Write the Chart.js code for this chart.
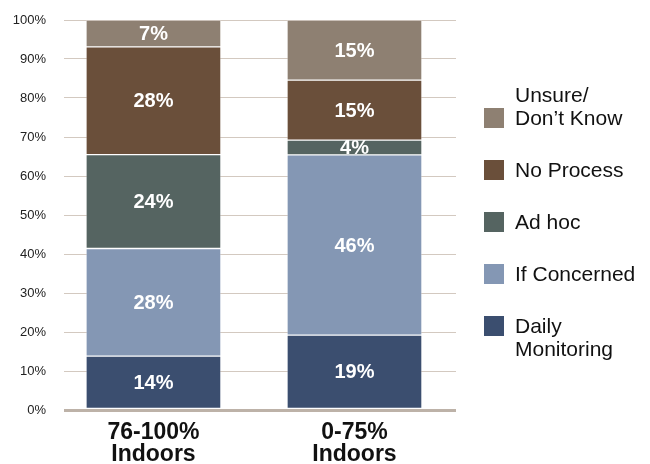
<!DOCTYPE html>
<html>
<head>
<meta charset="utf-8">
<script src="https://cdn.jsdelivr.net/npm/chart.js@4.4.0/dist/chart.umd.min.js"></script>
<style>
  html, body { margin: 0; padding: 0; background: #fff; }
  #wrap { position: relative; width: 650px; height: 464px; }
  #legend { position: absolute; left: 484px; top: 83px; font-family: "Liberation Sans", Arial, sans-serif; font-size: 21px; line-height: 23px; color: #111; }
  .item { display: flex; align-items: center; margin-bottom: 29px; }
  .item.end { align-items: flex-end; }
  .item.start { align-items: flex-start; }
  .box { width: 20px; height: 20px; margin-right: 11px; flex: none; }
  .item.end .box { margin-bottom: 1.5px; }
  .item.start .box { margin-top: 1.5px; }
</style>
</head>
<body>
<div id="wrap">
  <canvas id="chart" width="650" height="464"></canvas>
  <div id="legend"></div>
</div>
<script>
const categories = [['76-100%', 'Indoors'], ['0-75%', 'Indoors']];
const seriesNames = ['Daily Monitoring', 'If Concerned', 'Ad hoc', 'No Process', 'Unsure/ Don\u2019t Know'];
const legendLines = [['Daily', 'Monitoring'], ['If Concerned'], ['Ad hoc'], ['No Process'], ['Unsure/', 'Don\u2019t Know']];
const dailyMonitoring = [13.8, 19.2];
const ifConcerned = [27.6, 46.2];
const adHoc = [24.1, 3.8];
const noProcess = [27.6, 15.4];
const unsure = [6.9, 15.4];
const yTicks = [0, 10, 20, 30, 40, 50, 60, 70, 80, 90, 100];

const colors = ['#3b4e6f', '#8497b4', '#556461', '#6a4f3a', '#8e8072'];
const series = [dailyMonitoring, ifConcerned, adHoc, noProcess, unsure];

const datasets = series.map((vals, i) => ({
  label: seriesNames[i],
  data: vals.map((v, j) => ({ x: j, y: v })),
  stack: 'all',
  backgroundColor: colors[i],
  borderColor: 'rgba(255,255,255,0.25)',
  borderWidth: 1,
  borderSkipped: false,
  barThickness: 135
}));

// white percentage labels in the middle of each segment
const segmentLabels = {
  id: 'segmentLabels',
  afterDatasetsDraw(chart) {
    const ctx = chart.ctx;
    ctx.save();
    ctx.fillStyle = '#fff';
    ctx.font = 'bold 20px "Liberation Sans", Arial, sans-serif';
    ctx.textAlign = 'center';
    ctx.textBaseline = 'middle';
    chart.data.datasets.forEach((ds, i) => {
      chart.getDatasetMeta(i).data.forEach((bar, j) => {
        const p = bar.getProps(['x', 'y', 'base'], true);
        ctx.fillText(Math.round(ds.data[j].y) + '%', p.x, (p.y + p.base) / 2 + 1);
      });
    });
    ctx.restore();
  }
};

new Chart(document.getElementById('chart'), {
  type: 'bar',
  data: { datasets },
  plugins: [segmentLabels],
  options: {
    responsive: false,
    animation: false,
    layout: { padding: { top: 20, right: 194, left: 0, bottom: 0 } },
    plugins: {
      legend: { display: false },
      tooltip: { enabled: false }
    },
    scales: {
      x: {
        type: 'linear',
        offset: false,
        min: -0.445,
        max: 1.505,
        afterBuildTicks: axis => { axis.ticks = [{ value: 0 }, { value: 1 }]; },
        afterFit: axis => { axis.height = 54; },
        grid: { display: false, drawTicks: false },
        border: { display: false },
        ticks: {
          padding: 11,
          color: '#111',
          maxRotation: 0,
          autoSkip: false,
          font: { family: '"Liberation Sans", Arial, sans-serif', size: 23, weight: 'bold', lineHeight: 0.98 },
          callback: v => categories[v]
        }
      },
      y: {
        stacked: true,
        min: 0,
        max: 100,
        afterFit: axis => { axis.width = 64; axis.paddingTop = 0; axis.paddingBottom = 0; },
        afterBuildTicks: axis => { axis.ticks = yTicks.map(v => ({ value: v })); },
        border: { display: false },
        grid: {
          drawTicks: false,
          color: ctx => ctx.tick && ctx.tick.value === 0 ? '#bdb2a8' : '#d3c9c0',
          lineWidth: ctx => ctx.tick && ctx.tick.value === 0 ? 3 : 1
        },
        ticks: {
          padding: 18,
          color: '#222',
          font: { family: '"Liberation Sans", Arial, sans-serif', size: 13 },
          callback: v => v + '%'
        }
      }
    }
  }
});

// legend on the right, top to bottom in reverse stack order
const legend = document.getElementById('legend');
for (let i = seriesNames.length - 1; i >= 0; i--) {
  const item = document.createElement('div');
  item.className = 'item' + (i === 4 ? ' end' : i === 0 ? ' start' : '');
  const box = document.createElement('div');
  box.className = 'box';
  box.style.background = colors[i];
  const txt = document.createElement('div');
  txt.innerHTML = legendLines[i].join('<br>');
  item.appendChild(box);
  item.appendChild(txt);
  legend.appendChild(item);
}
</script>
</body>
</html>
